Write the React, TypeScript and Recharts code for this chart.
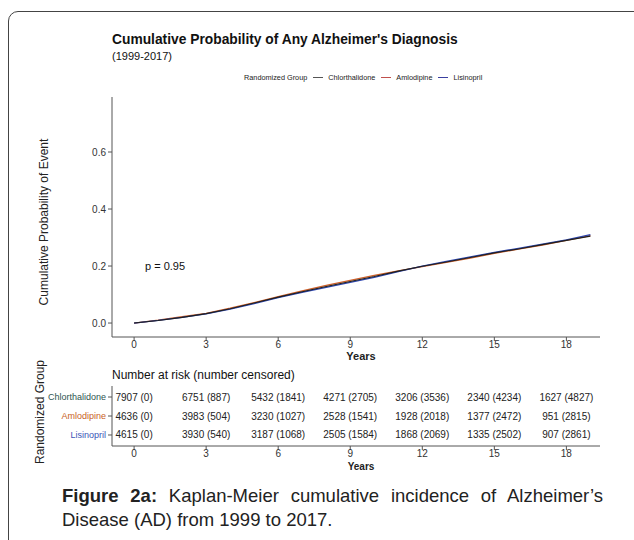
import React from "react";
import {
  LineChart,
  Line,
  XAxis,
  YAxis,
  ScatterChart,
  Scatter,
} from "recharts";

const FONT = '"Liberation Sans", Arial, sans-serif';

// Kaplan-Meier curves at whole years
const curveYears = [0, 1, 2, 3, 4, 5, 6, 7, 8, 9, 10, 11, 12, 13, 14, 15, 16, 17, 18, 19];
const chlorCurve = [0, 0.009, 0.02, 0.033, 0.05, 0.07, 0.091, 0.11, 0.128, 0.146, 0.163, 0.182, 0.199, 0.214, 0.23, 0.246, 0.26, 0.275, 0.29, 0.305];
const amloCurve = [0, 0.01, 0.022, 0.034, 0.052, 0.072, 0.093, 0.113, 0.132, 0.15, 0.167, 0.183, 0.198, 0.213, 0.228, 0.244, 0.259, 0.273, 0.29, 0.307];
const lisinCurve = [0, 0.009, 0.02, 0.032, 0.049, 0.068, 0.089, 0.108, 0.125, 0.143, 0.16, 0.18, 0.2, 0.216, 0.232, 0.248, 0.262, 0.277, 0.292, 0.31];

// number at risk table
const groups = ["Chlorthalidone", "Amlodipine", "Lisinopril"];
const groupColors = ["#2E5450", "#C8601E", "#3B55B8"];
const curveColors = ["#1f1f1f", "#D0602A", "#2E46B0"];
const riskYears = [0, 3, 6, 9, 12, 15, 18];
const chlorAtRisk = [7907, 6751, 5432, 4271, 3206, 2340, 1627];
const chlorCensored = [0, 887, 1841, 2705, 3536, 4234, 4827];
const amloAtRisk = [4636, 3983, 3230, 2528, 1928, 1377, 951];
const amloCensored = [0, 504, 1027, 1541, 2018, 2472, 2815];
const lisinAtRisk = [4615, 3930, 3187, 2505, 1868, 1335, 907];
const lisinCensored = [0, 540, 1068, 1584, 2069, 2502, 2861];

const xTicks = [0, 3, 6, 9, 12, 15, 18];
const yTicks = [0, 0.2, 0.4, 0.6];

const curveData = curveYears.map((t, i) => ({
  t,
  chlor: chlorCurve[i],
  amlo: amloCurve[i],
  lisin: lisinCurve[i],
}));

const riskSets = [
  { row: 3, atRisk: chlorAtRisk, censored: chlorCensored },
  { row: 2, atRisk: amloAtRisk, censored: amloCensored },
  { row: 1, atRisk: lisinAtRisk, censored: lisinCensored },
];
const riskData = riskSets.flatMap((s) =>
  riskYears.map((t, i) => ({ t, row: s.row, label: `${s.atRisk[i]} (${s.censored[i]})` }))
);

const axisStroke = "#555";
const tickStyle = { fill: "#333", fontSize: 10, fontFamily: FONT };

function RiskCell(props: any) {
  const { cx, cy, payload } = props;
  return (
    <text x={cx} y={cy} textAnchor="middle" dominantBaseline="central" fontSize={10} fontFamily={FONT} fill="#222">
      {payload.label}
    </text>
  );
}

function GroupTick(props: any) {
  const { x, y, payload } = props;
  const idx = 3 - payload.value;
  return (
    <text x={x} y={y} textAnchor="end" dominantBaseline="central" fontSize={9} fontFamily={FONT} fill={groupColors[idx]}>
      {groups[idx]}
    </text>
  );
}

function LegendItem({ name, color }: { name: string; color: string }) {
  return (
    <span style={{ display: "inline-flex", alignItems: "center", marginLeft: 6 }}>
      <span style={{ display: "inline-block", width: 10, height: 1, background: color, marginRight: 5 }} />
      {name}
    </span>
  );
}

export default function App() {
  return (
    <div style={{ position: "absolute", left: 0, top: 0, width: 634, height: 540, background: "#fff", overflow: "hidden", fontFamily: FONT }}>
      <div style={{ position: "absolute", left: 8, top: 11, width: 720, height: 620, border: "1.5px solid #444", borderRadius: 10 }} />

      <div style={{ position: "absolute", left: 112, top: 32, fontSize: 13.8, fontWeight: "bold", color: "#111" }}>
        Cumulative Probability of Any Alzheimer's Diagnosis
      </div>
      <div style={{ position: "absolute", left: 112, top: 50, fontSize: 11, color: "#111" }}>(1999-2017)</div>

      <div style={{ position: "absolute", left: 244, top: 73, fontSize: 7.3, color: "#222", whiteSpace: "nowrap", display: "flex", alignItems: "center" }}>
        <span>Randomized Group</span>
        <LegendItem name="Chlorthalidone" color="#555" />
        <LegendItem name="Amlodipine" color="#C0504D" />
        <LegendItem name="Lisinopril" color="#3A3FA0" />
      </div>

      <div style={{ position: "absolute", left: 0, top: 0 }}>
        <LineChart width={634} height={370} data={curveData} margin={{ top: 97, right: 34, bottom: 0, left: 72 }}>
          <XAxis
            dataKey="t"
            type="number"
            domain={[-0.92, 19.4]}
            ticks={xTicks}
            allowDataOverflow
            height={33}
            tick={tickStyle}
            tickSize={4}
            tickMargin={0}
            stroke={axisStroke}
          />
          <YAxis
            type="number"
            domain={[-0.049, 0.793]}
            ticks={yTicks}
            allowDataOverflow
            width={40}
            tick={tickStyle}
            tickSize={4}
            tickFormatter={(v: number) => v.toFixed(1)}
            stroke={axisStroke}
          />
          <Line dataKey="amlo" stroke={curveColors[1]} strokeWidth={1.3} dot={false} isAnimationActive={false} />
          <Line dataKey="lisin" stroke={curveColors[2]} strokeWidth={1.3} dot={false} isAnimationActive={false} />
          <Line dataKey="chlor" stroke={curveColors[0]} strokeWidth={1.1} dot={false} isAnimationActive={false} />
        </LineChart>
      </div>

      <div style={{ position: "absolute", left: 145, top: 260, fontSize: 11, color: "#111" }}>p = 0.95</div>
      <div style={{ position: "absolute", left: 361, top: 350, transform: "translateX(-50%)", fontSize: 11, fontWeight: "bold", color: "#222" }}>Years</div>
      <div
        style={{ position: "absolute", left: 44, top: 222, transform: "translate(-50%, -50%) rotate(-90deg)", fontSize: 12, color: "#222", whiteSpace: "nowrap" }}
      >
        Cumulative Probability of Event
      </div>

      <div style={{ position: "absolute", left: 112, top: 368, fontSize: 12, color: "#111" }}>Number at risk (number censored)</div>
      <div style={{ position: "absolute", left: 0, top: 366 }}>
        <ScatterChart width={634} height={110} margin={{ top: 20, right: 34, bottom: 0, left: 72 }}>
          <XAxis
            dataKey="t"
            type="number"
            domain={[-0.92, 19.4]}
            ticks={xTicks}
            allowDataOverflow
            height={30}
            tick={tickStyle}
            tickSize={4}
            tickMargin={0}
            stroke={axisStroke}
          />
          <YAxis
            dataKey="row"
            type="number"
            domain={[0.42, 3.58]}
            ticks={[1, 2, 3]}
            interval={0}
            allowDataOverflow
            width={40}
            tick={<GroupTick />}
            tickSize={4}
            stroke={axisStroke}
          />
          <Scatter data={riskData} shape={<RiskCell />} isAnimationActive={false} />
        </ScatterChart>
      </div>
      <div style={{ position: "absolute", left: 361, top: 461, transform: "translateX(-50%)", fontSize: 10, fontWeight: "bold", color: "#222" }}>Years</div>
      <div
        style={{ position: "absolute", left: 40, top: 412, transform: "translate(-50%, -50%) rotate(-90deg)", fontSize: 12, color: "#222", whiteSpace: "nowrap" }}
      >
        Randomized Group
      </div>

      <div style={{ position: "absolute", left: 62, top: 484, width: 541, fontSize: 18.5, lineHeight: "24px", color: "#222" }}>
        <div style={{ textAlign: "justify", textAlignLast: "justify", whiteSpace: "nowrap" }}>
          <b>Figure 2a:</b> Kaplan-Meier cumulative incidence of Alzheimer’s
        </div>
        <div>Disease (AD) from 1999 to 2017.</div>
      </div>
    </div>
  );
}
